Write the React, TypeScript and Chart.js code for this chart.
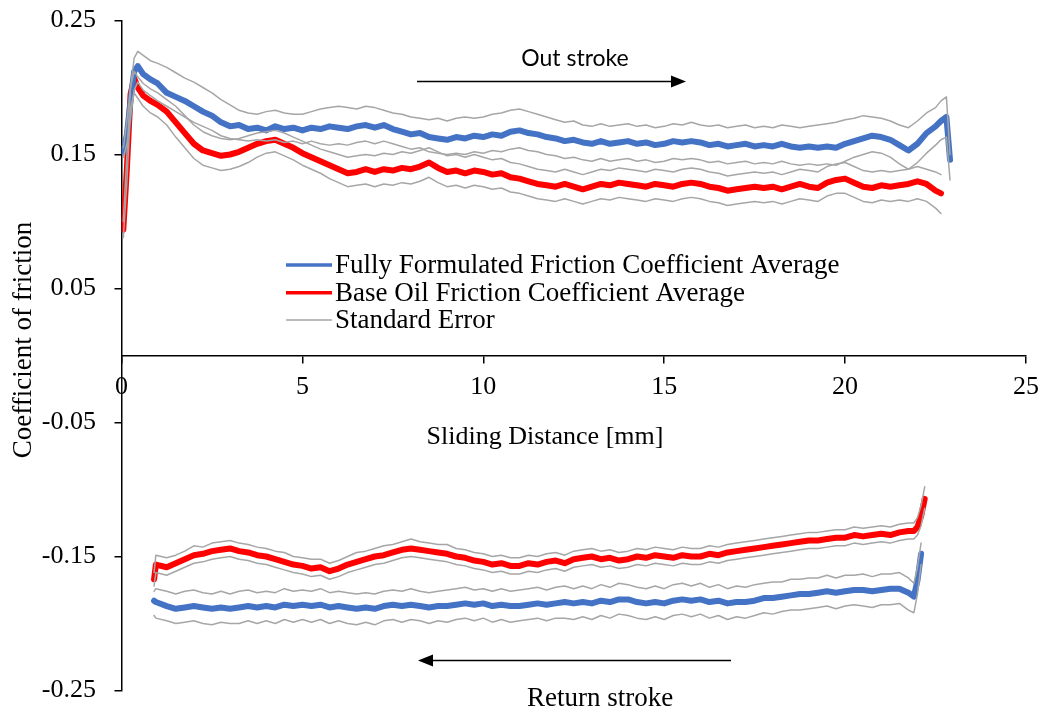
import React, { useEffect, useRef } from 'react';
import { Chart, registerables } from 'chart.js';

Chart.register(...registerables);

// ---------- data ----------
const X_TICKS_STEP = 5;
const X_MIN = 0;
const X_MAX = 25;
const Y_MIN = -0.25;
const Y_MAX = 0.25;
const Y_STEP = 0.1;

const X_TITLE = 'Sliding Distance [mm]';
const Y_TITLE = 'Coefficient of friction';
const LEGEND_LABELS = [
  'Fully Formulated Friction Coefficient Average',
  'Base Oil Friction Coefficient Average',
  'Standard Error',
];
const OUT_LABEL = 'Out stroke';
const RETURN_LABEL = 'Return stroke';

// Out stroke
const OUT_X = [
  0.05, 0.15, 0.25, 0.35, 0.45, 0.6, 0.8, 1.0,
  1.25, 1.5, 1.75, 2.0, 2.25, 2.5, 2.75, 3.0,
  3.25, 3.5, 3.75, 4.0, 4.25, 4.5, 4.75, 5.0,
  5.25, 5.5, 5.75, 6.0, 6.25, 6.5, 6.75, 7.0,
  7.25, 7.5, 7.75, 8.0, 8.25, 8.5, 8.75, 9.0,
  9.25, 9.5, 9.75, 10.0, 10.25, 10.5, 10.75, 11.0,
  11.25, 11.5, 11.75, 12.0, 12.25, 12.5, 12.75, 13.0,
  13.25, 13.5, 13.75, 14.0, 14.25, 14.5, 14.75, 15.0,
  15.25, 15.5, 15.75, 16.0, 16.25, 16.5, 16.75, 17.0,
  17.25, 17.5, 17.75, 18.0, 18.25, 18.5, 18.75, 19.0,
  19.25, 19.5, 19.75, 20.0, 20.25, 20.5, 20.75, 21.0,
  21.25, 21.5, 21.75, 22.0, 22.25, 22.5, 22.65, 22.8, 22.9,
];
const OUT_FF_AVG = [
  0.152, 0.165, 0.19, 0.212, 0.216, 0.21, 0.206, 0.203,
  0.196, 0.193, 0.19, 0.186, 0.182, 0.179, 0.174, 0.171,
  0.172, 0.169, 0.170, 0.168, 0.171, 0.169, 0.17, 0.168,
  0.17, 0.169, 0.171, 0.170, 0.169, 0.171, 0.172, 0.170,
  0.172, 0.169, 0.167, 0.165, 0.166, 0.163, 0.162, 0.161,
  0.163, 0.162, 0.164, 0.163, 0.165, 0.164, 0.167, 0.168,
  0.166, 0.165, 0.163, 0.162, 0.16, 0.161, 0.159, 0.158,
  0.16, 0.158, 0.159, 0.16, 0.158, 0.159, 0.157, 0.158,
  0.16, 0.159, 0.16, 0.159, 0.157, 0.158, 0.156, 0.157,
  0.158, 0.156, 0.157, 0.156, 0.158, 0.156, 0.155, 0.156,
  0.155, 0.156, 0.155, 0.158, 0.16, 0.162, 0.164, 0.163,
  0.161, 0.157, 0.153, 0.158, 0.166, 0.171, 0.175, 0.178, 0.146,
];
const OUT_FF_UPPER = [
  0.155, 0.175, 0.2, 0.222, 0.227, 0.224, 0.22, 0.218,
  0.215, 0.211, 0.207, 0.204, 0.2, 0.196, 0.191, 0.187,
  0.183, 0.181, 0.18, 0.182, 0.183, 0.181, 0.18, 0.18,
  0.182, 0.184, 0.185, 0.186, 0.185, 0.184, 0.186, 0.185,
  0.183, 0.181, 0.180, 0.178, 0.177, 0.176, 0.177, 0.175,
  0.177, 0.178, 0.177, 0.178, 0.18, 0.181, 0.183, 0.184,
  0.182, 0.18, 0.178, 0.176, 0.174, 0.175, 0.172, 0.171,
  0.173, 0.171, 0.172, 0.173, 0.171, 0.172, 0.17, 0.171,
  0.173, 0.172, 0.174, 0.172, 0.171, 0.172, 0.17, 0.171,
  0.172, 0.17, 0.171, 0.17, 0.172, 0.171, 0.17, 0.171,
  0.172, 0.173, 0.174, 0.176, 0.177, 0.179, 0.178, 0.177,
  0.175, 0.172, 0.17, 0.175, 0.181, 0.185, 0.19, 0.193, 0.15,
];
const OUT_FF_LOWER = [
  0.148, 0.158, 0.178, 0.198, 0.204, 0.198, 0.194, 0.19,
  0.186, 0.182, 0.178, 0.174, 0.171, 0.168, 0.164, 0.162,
  0.161, 0.16, 0.161, 0.16, 0.161, 0.159, 0.16, 0.158,
  0.16, 0.158, 0.157, 0.158, 0.157, 0.159, 0.16, 0.158,
  0.16, 0.158, 0.156, 0.154, 0.155, 0.152, 0.151, 0.15,
  0.151, 0.15, 0.152, 0.151, 0.153, 0.152, 0.154, 0.155,
  0.153, 0.152, 0.15, 0.149, 0.147, 0.148, 0.146, 0.145,
  0.147, 0.145, 0.146, 0.147, 0.145, 0.146, 0.144, 0.145,
  0.147, 0.146, 0.147, 0.146, 0.144, 0.145, 0.143, 0.144,
  0.145, 0.143, 0.144, 0.143, 0.145, 0.143, 0.142, 0.143,
  0.142, 0.143, 0.142, 0.145, 0.148, 0.15, 0.152, 0.151,
  0.148, 0.143, 0.139, 0.144, 0.151, 0.157, 0.161, 0.163, 0.131,
];
const OUT_BO_AVG = [
  0.094, 0.14, 0.195, 0.207, 0.2, 0.194, 0.19, 0.187,
  0.182, 0.174, 0.166, 0.158, 0.153, 0.151, 0.149, 0.150,
  0.152, 0.155, 0.158, 0.16, 0.161, 0.158, 0.155, 0.151,
  0.148, 0.145, 0.142, 0.139, 0.136, 0.137, 0.139, 0.137,
  0.139, 0.138, 0.140, 0.139, 0.141, 0.144, 0.14, 0.137,
  0.138, 0.136, 0.138, 0.137, 0.135, 0.136, 0.133, 0.132,
  0.13, 0.128, 0.127, 0.126, 0.128, 0.126, 0.124, 0.126,
  0.128, 0.127, 0.129, 0.128, 0.127, 0.126, 0.128, 0.127,
  0.126, 0.128, 0.129, 0.128, 0.126, 0.125, 0.123, 0.124,
  0.125, 0.126, 0.125, 0.126, 0.124, 0.126, 0.128, 0.126,
  0.125, 0.129, 0.131, 0.132, 0.129, 0.126, 0.125, 0.127,
  0.126, 0.127, 0.128, 0.13, 0.128, 0.123, 0.121, null, null,
];
const OUT_BO_UPPER = [
  0.1, 0.15, 0.2, 0.212, 0.208, 0.203, 0.199, 0.196,
  0.191, 0.186, 0.179, 0.172, 0.167, 0.164, 0.162, 0.161,
  0.162, 0.164, 0.166, 0.167, 0.168, 0.166, 0.163, 0.16,
  0.157, 0.154, 0.152, 0.15, 0.148, 0.149, 0.15, 0.149,
  0.151, 0.15, 0.152, 0.151, 0.153, 0.155, 0.152, 0.149,
  0.15, 0.148, 0.15, 0.148, 0.146, 0.147, 0.144, 0.143,
  0.141, 0.139, 0.138, 0.137, 0.139, 0.137, 0.135, 0.137,
  0.139, 0.138, 0.14, 0.139, 0.138, 0.137, 0.139, 0.138,
  0.137, 0.139, 0.14, 0.139, 0.137, 0.136, 0.134, 0.135,
  0.136, 0.137, 0.136, 0.137, 0.135, 0.137, 0.139, 0.138,
  0.137, 0.141, 0.143, 0.144, 0.141, 0.138, 0.137, 0.138,
  0.137, 0.138, 0.139, 0.141, 0.139, 0.137, 0.135, null, null,
];
const OUT_BO_LOWER = [
  0.088, 0.13, 0.185, 0.196, 0.192, 0.186, 0.181, 0.178,
  0.172, 0.163, 0.155, 0.147, 0.142, 0.14, 0.138, 0.139,
  0.141, 0.144, 0.148, 0.151, 0.152, 0.149, 0.146, 0.142,
  0.139, 0.136, 0.132, 0.129, 0.126, 0.127, 0.128, 0.126,
  0.128, 0.127, 0.129, 0.128, 0.13, 0.133, 0.129, 0.126,
  0.127, 0.125, 0.127, 0.126, 0.124, 0.125, 0.122, 0.121,
  0.119, 0.117, 0.116, 0.115, 0.117, 0.115, 0.113, 0.115,
  0.117, 0.116, 0.118, 0.117, 0.116, 0.115, 0.117, 0.116,
  0.115, 0.117, 0.118, 0.117, 0.115, 0.114, 0.112, 0.113,
  0.114, 0.115, 0.114, 0.115, 0.113, 0.115, 0.117, 0.116,
  0.115, 0.119, 0.121, 0.121, 0.118, 0.115, 0.114, 0.116,
  0.115, 0.116, 0.115, 0.117, 0.115, 0.11, 0.106, null, null,
];

// Return stroke
const RET_X = [
  0.9, 0.95,
  1.25, 1.5, 1.75, 2.0, 2.25, 2.5, 2.75, 3.0,
  3.25, 3.5, 3.75, 4.0, 4.25, 4.5, 4.75, 5.0,
  5.25, 5.5, 5.75, 6.0, 6.25, 6.5, 6.75, 7.0,
  7.25, 7.5, 7.75, 8.0, 8.25, 8.5, 8.75, 9.0,
  9.25, 9.5, 9.75, 10.0, 10.25, 10.5, 10.75, 11.0,
  11.25, 11.5, 11.75, 12.0, 12.25, 12.5, 12.75, 13.0,
  13.25, 13.5, 13.75, 14.0, 14.25, 14.5, 14.75, 15.0,
  15.25, 15.5, 15.75, 16.0, 16.25, 16.5, 16.75, 17.0,
  17.25, 17.5, 17.75, 18.0, 18.25, 18.5, 18.75, 19.0,
  19.25, 19.5, 19.75, 20.0, 20.25, 20.5, 20.75, 21.0,
  21.25, 21.5, 21.75, 21.9, 22.0, 22.1, 22.2,
];
const RET_BO_AVG = [
  -0.167, -0.156,
  -0.158, -0.155, -0.152, -0.149, -0.148, -0.146, -0.145, -0.144,
  -0.146, -0.147, -0.149, -0.15, -0.152, -0.154, -0.156, -0.157,
  -0.159, -0.158, -0.161, -0.159, -0.156, -0.154, -0.152, -0.15,
  -0.149, -0.147, -0.145, -0.144, -0.145, -0.146, -0.147, -0.148,
  -0.15, -0.151, -0.153, -0.154, -0.156, -0.155, -0.157, -0.157,
  -0.155, -0.156, -0.154, -0.153, -0.155, -0.152, -0.151, -0.15,
  -0.152, -0.151, -0.153, -0.152, -0.15, -0.151, -0.149, -0.15,
  -0.151, -0.149, -0.15, -0.15, -0.148, -0.149, -0.147, -0.146,
  -0.145, -0.144, -0.143, -0.142, -0.141, -0.14, -0.139, -0.138,
  -0.138, -0.137, -0.136, -0.136, -0.134, -0.135, -0.134, -0.133,
  -0.134, -0.132, -0.131, -0.131, -0.128, -0.12, -0.107,
];
const RET_BO_UPPER = [
  -0.162, -0.149,
  -0.151, -0.149, -0.146, -0.142, -0.143, -0.14, -0.139, -0.138,
  -0.14, -0.141, -0.143, -0.144, -0.146, -0.147, -0.15, -0.151,
  -0.152, -0.152, -0.155, -0.153, -0.15, -0.147, -0.146, -0.144,
  -0.142, -0.141, -0.139, -0.137, -0.139, -0.14, -0.141, -0.141,
  -0.144, -0.145, -0.147, -0.148, -0.15, -0.149, -0.151, -0.151,
  -0.149, -0.15, -0.148, -0.147, -0.149, -0.146, -0.145, -0.144,
  -0.146, -0.145, -0.147, -0.146, -0.144, -0.145, -0.143, -0.144,
  -0.145, -0.143, -0.144, -0.144, -0.142, -0.143, -0.141, -0.14,
  -0.139, -0.138, -0.137, -0.136, -0.135, -0.134, -0.133, -0.132,
  -0.132, -0.131, -0.13, -0.13, -0.128, -0.129, -0.128, -0.127,
  -0.128, -0.126, -0.125, -0.125, -0.121, -0.112, -0.098,
];
const RET_BO_LOWER = [
  -0.172, -0.162,
  -0.164, -0.161, -0.158, -0.155, -0.154, -0.152, -0.151, -0.15,
  -0.152, -0.153, -0.155, -0.156, -0.158, -0.16, -0.162, -0.163,
  -0.165, -0.164, -0.167, -0.165, -0.162, -0.16, -0.158, -0.156,
  -0.155, -0.153, -0.151, -0.15, -0.151, -0.152, -0.153, -0.154,
  -0.156, -0.157, -0.159, -0.16, -0.162, -0.161, -0.163, -0.163,
  -0.161, -0.162, -0.16, -0.159, -0.161, -0.158, -0.157, -0.156,
  -0.158, -0.157, -0.159, -0.158, -0.156, -0.157, -0.155, -0.156,
  -0.157, -0.155, -0.156, -0.156, -0.154, -0.155, -0.153, -0.152,
  -0.151, -0.15, -0.149, -0.148, -0.147, -0.146, -0.145, -0.144,
  -0.144, -0.143, -0.142, -0.142, -0.14, -0.141, -0.14, -0.139,
  -0.14, -0.138, -0.137, -0.137, -0.134, -0.127, -0.114,
];
const RET_FF_AVG = [
  -0.183, -0.184,
  -0.187, -0.189, -0.188, -0.187, -0.188, -0.189, -0.188, -0.189,
  -0.188, -0.187, -0.188, -0.187, -0.188, -0.186, -0.187, -0.186,
  -0.187, -0.186, -0.188, -0.187, -0.188, -0.189, -0.188, -0.189,
  -0.187, -0.186, -0.187, -0.186, -0.187, -0.188, -0.187, -0.187,
  -0.186, -0.185, -0.186, -0.185, -0.187, -0.186, -0.187, -0.187,
  -0.186, -0.185, -0.186, -0.185, -0.184, -0.185, -0.184, -0.185,
  -0.183, -0.184, -0.182, -0.182, -0.184, -0.185, -0.184, -0.185,
  -0.183, -0.182, -0.183, -0.182, -0.184, -0.183, -0.185, -0.184,
  -0.184, -0.183, -0.181, -0.181, -0.18, -0.179, -0.178, -0.178,
  -0.177, -0.176, -0.177, -0.176, -0.175, -0.175, -0.176, -0.175,
  -0.174, -0.174, -0.177, -0.18, -0.168, -0.148, null,
];
const RET_FF_UPPER = [
  -0.176, -0.174,
  -0.176, -0.178, -0.176, -0.175, -0.177, -0.178, -0.176, -0.178,
  -0.176, -0.175, -0.177, -0.176, -0.177, -0.174, -0.176, -0.175,
  -0.176, -0.174, -0.177, -0.176, -0.177, -0.178, -0.177, -0.178,
  -0.176, -0.175, -0.176, -0.174, -0.176, -0.177, -0.176, -0.175,
  -0.174, -0.173, -0.175, -0.174, -0.176, -0.174, -0.176, -0.175,
  -0.174, -0.173, -0.175, -0.173, -0.172, -0.174, -0.172, -0.174,
  -0.171, -0.173, -0.17, -0.171, -0.173, -0.174, -0.172, -0.174,
  -0.171, -0.17, -0.172, -0.17, -0.173, -0.171, -0.174, -0.172,
  -0.173, -0.171, -0.17, -0.169, -0.169, -0.167, -0.167, -0.166,
  -0.166, -0.164, -0.166, -0.164, -0.164, -0.163, -0.165, -0.163,
  -0.163, -0.162, -0.166, -0.17, -0.158, -0.14, null,
];
const RET_FF_LOWER = [
  -0.194, -0.196,
  -0.198, -0.2, -0.199, -0.198, -0.2, -0.201, -0.199, -0.2,
  -0.2, -0.198, -0.2, -0.198, -0.2, -0.197, -0.199, -0.197,
  -0.199, -0.197, -0.2, -0.198, -0.2, -0.201, -0.199, -0.201,
  -0.198, -0.197, -0.199, -0.197, -0.198, -0.2, -0.198, -0.199,
  -0.197, -0.196, -0.198, -0.196, -0.199, -0.197, -0.199, -0.198,
  -0.197, -0.196, -0.198, -0.196, -0.196, -0.197, -0.195, -0.197,
  -0.194, -0.196, -0.193, -0.194, -0.196, -0.197, -0.195, -0.197,
  -0.194, -0.193, -0.195, -0.193, -0.196, -0.194, -0.197, -0.195,
  -0.196, -0.194, -0.192, -0.193, -0.191, -0.19, -0.19, -0.189,
  -0.188, -0.187, -0.189, -0.187, -0.186, -0.187, -0.188, -0.186,
  -0.186, -0.185, -0.19, -0.192, -0.178, -0.156, null,
];

// ---------- styles ----------
const BLUE = '#4472C4';
const RED = '#FF0000';
const GRAY = '#A6A6A6';
const SERIF = '"Liberation Serif", "Times New Roman", serif';
const SANS = 'Lato, "Noto Sans", sans-serif';

const pts = (xs: number[], ys: (number | null)[]) =>
  xs.map((x, i) => ({ x, y: ys[i] === undefined ? null : ys[i] }));

const lineDs = (xs: number[], ys: (number | null)[], color: string, width: number, order: number) => ({
  data: pts(xs, ys),
  borderColor: color,
  backgroundColor: color,
  borderWidth: width,
  pointRadius: 0,
  pointHoverRadius: 0,
  tension: 0,
  fill: false,
  borderJoinStyle: 'round' as const,
  borderCapStyle: 'round' as const,
  spanGaps: false,
  order,
});

const annotPlugin = {
  id: 'annot',
  afterDraw(chart: any) {
    const { ctx } = chart;
    const ys = chart.scales.y;
    const y0 = ys.getPixelForValue(0);
    ctx.save();
    ctx.fillStyle = '#000';
    ctx.strokeStyle = '#000';

    // y axis title
    ctx.save();
    ctx.translate(24, 340);
    ctx.rotate(-Math.PI / 2);
    ctx.font = `27px ${SERIF}`;
    ctx.textAlign = 'center';
    ctx.textBaseline = 'middle';
    ctx.fillText(Y_TITLE, 0, 0);
    ctx.restore();

    // x axis title
    ctx.font = `26px ${SERIF}`;
    ctx.textAlign = 'center';
    ctx.textBaseline = 'middle';
    ctx.fillText(X_TITLE, 545, y0 + 82);

    // legend
    const legendColors = [BLUE, RED, GRAY];
    const legendWidths = [3.5, 3.5, 1.5];
    const legendY = [265, 292.7, 320];
    ctx.font = `27px ${SERIF}`;
    ctx.textAlign = 'left';
    LEGEND_LABELS.forEach((lab, i) => {
      ctx.beginPath();
      ctx.strokeStyle = legendColors[i];
      ctx.lineWidth = legendWidths[i];
      ctx.moveTo(286, legendY[i]);
      ctx.lineTo(332, legendY[i]);
      ctx.stroke();
      ctx.fillStyle = '#000';
      ctx.fillText(lab, 335, legendY[i] + 1);
    });

    // Out stroke arrow
    ctx.strokeStyle = '#000';
    ctx.fillStyle = '#000';
    ctx.lineWidth = 1.3;
    ctx.beginPath();
    ctx.moveTo(417, 81.5);
    ctx.lineTo(673, 81.5);
    ctx.stroke();
    ctx.beginPath();
    ctx.moveTo(686, 81.5);
    ctx.lineTo(671, 75.5);
    ctx.lineTo(671, 87.5);
    ctx.closePath();
    ctx.fill();
    ctx.font = `23px ${SANS}`;
    ctx.textAlign = 'center';
    ctx.fillText(OUT_LABEL, 575, 59);

    // Return stroke arrow
    ctx.beginPath();
    ctx.moveTo(731, 660.5);
    ctx.lineTo(431, 660.5);
    ctx.stroke();
    ctx.beginPath();
    ctx.moveTo(418, 660.5);
    ctx.lineTo(433, 654.5);
    ctx.lineTo(433, 666.5);
    ctx.closePath();
    ctx.fill();
    ctx.font = `27px ${SERIF}`;
    ctx.fillText(RETURN_LABEL, 600, 699);

    ctx.restore();
  },
};

export default function App() {
  const ref = useRef<HTMLCanvasElement | null>(null);

  useEffect(() => {
    if (!ref.current) return;
    const chart = new Chart(ref.current, {
      type: 'line',
      data: {
        datasets: [
          lineDs(OUT_X, OUT_FF_UPPER, GRAY, 1.5, 0),
          lineDs(OUT_X, OUT_FF_LOWER, GRAY, 1.5, 0),
          lineDs(OUT_X, OUT_BO_UPPER, GRAY, 1.5, 0),
          lineDs(OUT_X, OUT_BO_LOWER, GRAY, 1.5, 0),
          lineDs(RET_X, RET_FF_UPPER, GRAY, 1.5, 0),
          lineDs(RET_X, RET_FF_LOWER, GRAY, 1.5, 0),
          lineDs(RET_X, RET_BO_UPPER, GRAY, 1.5, 0),
          lineDs(RET_X, RET_BO_LOWER, GRAY, 1.5, 0),
          lineDs(OUT_X, OUT_FF_AVG, BLUE, 6, 1),
          lineDs(OUT_X, OUT_BO_AVG, RED, 6, 1),
          lineDs(RET_X, RET_FF_AVG, BLUE, 6, 1),
          lineDs(RET_X, RET_BO_AVG, RED, 6, 1),
        ] as any,
      },
      options: {
        responsive: false,
        animation: false,
        devicePixelRatio: 1,
        layout: { padding: { top: 20.5, bottom: 22.5, right: 16, left: 0 } },
        plugins: {
          legend: { display: false },
          tooltip: { enabled: false },
        },
        scales: {
          x: {
            type: 'linear',
            min: X_MIN,
            max: X_MAX,
            position: { y: 0 } as any,
            afterFit: (scale: any) => {
              scale.paddingLeft = 0;
              scale.paddingRight = 0;
              scale.paddingTop = 0;
              scale.paddingBottom = 0;
            },
            ticks: {
              stepSize: X_TICKS_STEP,
              color: '#000',
              padding: 9,
              maxRotation: 0,
              font: { family: SERIF, size: 26 },
            },
            grid: {
              display: true,
              drawOnChartArea: false,
              drawTicks: true,
              tickLength: 7,
              color: '#000',
              lineWidth: 1.5,
            },
            border: { display: true, color: '#000', width: 1.5 },
          },
          y: {
            type: 'linear',
            min: Y_MIN,
            max: Y_MAX,
            position: 'left',
            afterFit: (scale: any) => {
              scale.width = 121.5;
              scale.paddingTop = 0;
              scale.paddingBottom = 0;
              scale.paddingLeft = 0;
              scale.paddingRight = 0;
            },
            ticks: {
              stepSize: Y_STEP,
              color: '#000',
              padding: 18.5,
              font: { family: SERIF, size: 26 },
              callback: (v: any) => Number(v).toFixed(2),
            },
            grid: {
              display: true,
              drawOnChartArea: false,
              drawTicks: true,
              tickLength: 7,
              color: '#000',
              lineWidth: 1.5,
            },
            border: { display: true, color: '#000', width: 1.5 },
          },
        },
      },
      plugins: [annotPlugin],
    });
    return () => chart.destroy();
  }, []);

  return (
    <div style={{ position: 'fixed', left: 0, top: 0, width: 1042, height: 713, background: '#fff' }}>
      <canvas ref={ref} width={1042} height={713} style={{ width: 1042, height: 713, display: 'block' }} />
    </div>
  );
}
